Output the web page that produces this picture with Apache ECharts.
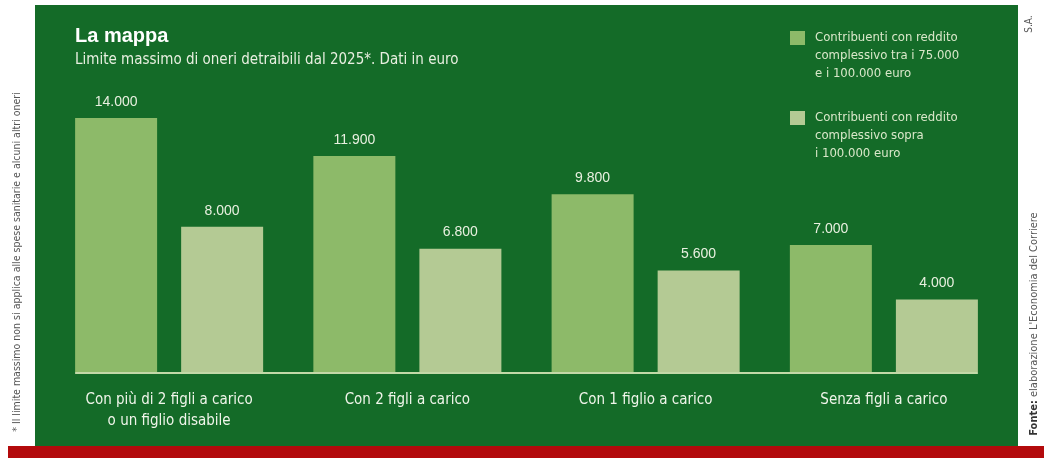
<!DOCTYPE html>
<html>
<head>
<meta charset="utf-8">
<script src="https://cdn.jsdelivr.net/npm/echarts@6/dist/echarts.min.js"></script>
<style>
  html, body { margin: 0; padding: 0; background: #ffffff; }
  #chart { width: 1044px; height: 458px; }
</style>
</head>
<body>
<div id="chart"></div>
<script>
// Categorie (fasce familiari)
const categories = [
  'Con più di 2 figli a carico\no un figlio disabile',
  'Con 2 figli a carico',
  'Con 1 figlio a carico',
  'Senza figli a carico'
];

// Limite massimo di oneri detraibili, in euro
const redditoTra75e100 = [14000, 11900, 9800, 7000];
const redditoSopra100 = [8000, 6800, 5600, 4000];

// Nomi delle serie (testo della legenda)
const seriesNames = [
  'Contribuenti con reddito\ncomplessivo tra i 75.000\ne i 100.000 euro',
  'Contribuenti con reddito\ncomplessivo sopra\ni 100.000 euro'
];

const titleText = 'La mappa';
const subtitleText = 'Limite massimo di oneri detraibili dal 2025*. Dati in euro';
const footnoteText = '* Il limite massimo non si applica alle spese sanitarie e alcuni altri oneri';
const authorText = 'S.A.';
const sourceLabel = 'Fonte:';
const sourceText = ' elaborazione L\'Economia del Corriere';

const GREEN_BG = '#146b28';
const BAR_DARK = '#8dba69';
const BAR_LIGHT = '#b4ca94';
const NARROW = "'Liberation Sans Narrow', 'DejaVu Sans Condensed', sans-serif";
const BAR_W = 82;
const BAR_GAP = 24;

function fmt(n) {
  return String(n).replace(/\B(?=(\d{3})+(?!\d))/g, '.');
}

const chart = echarts.init(document.getElementById('chart'), null, { renderer: 'canvas' });

const valueLabel = {
  show: true,
  position: 'top',
  distance: 9,
  color: '#e9f0e0',
  fontFamily: "'Liberation Sans', sans-serif",
  fontSize: 14,
  formatter: p => fmt(p.value)
};

chart.setOption({
  animation: false,
  backgroundColor: '#ffffff',
  title: {
    text: titleText,
    subtext: subtitleText,
    left: 70,
    top: 21,
    itemGap: 7,
    textStyle: { color: '#ffffff', fontSize: 20, fontWeight: 'bold', fontFamily: "'Liberation Sans', sans-serif" },
    subtextStyle: { color: '#e8efe0', fontSize: 15, fontFamily: NARROW }
  },
  grid: { left: 50, right: 41, top: 118, bottom: 86 },
  xAxis: {
    type: 'category',
    data: categories,
    axisLine: { show: false },
    axisTick: { show: false },
    axisLabel: {
      color: '#f0f5ea',
      fontSize: 15,
      lineHeight: 21,
      margin: 18,
      fontFamily: NARROW,
      interval: 0
    }
  },
  yAxis: {
    type: 'value',
    min: 0,
    max: 14000,
    show: false,
    splitLine: { show: false }
  },
  series: [
    {
      name: seriesNames[0],
      type: 'bar',
      data: redditoTra75e100,
      barWidth: BAR_W,
      barGap: (BAR_GAP / BAR_W * 100).toFixed(1) + '%',
      itemStyle: { color: BAR_DARK },
      label: valueLabel
    },
    {
      name: seriesNames[1],
      type: 'bar',
      data: redditoSopra100,
      barWidth: BAR_W,
      itemStyle: { color: BAR_LIGHT },
      label: valueLabel
    },
    {
      // linea di base sotto le barre, dalla prima all'ultima
      type: 'custom',
      silent: true,
      z: 5,
      data: [[0, 0]],
      renderItem: function (params, api) {
        const a = api.coord([0, 0]);
        const b = api.coord([categories.length - 1, 0]);
        const ext = BAR_W + BAR_GAP / 2;
        return {
          type: 'line',
          shape: { x1: a[0] - ext, y1: a[1] + 1, x2: b[0] + ext, y2: a[1] + 1 },
          style: { stroke: '#c3d9a8', lineWidth: 2 }
        };
      }
    }
  ],
  graphic: [
    // pannello verde
    { type: 'rect', z: -10, shape: { x: 35, y: 5, width: 983, height: 441 }, style: { fill: GREEN_BG } },
    // fascia rossa in basso
    { type: 'rect', z: -10, shape: { x: 8, y: 446, width: 1036, height: 12 }, style: { fill: '#b30a0c' } },
    // legenda
    { type: 'rect', shape: { x: 790, y: 31, width: 15, height: 14 }, style: { fill: BAR_DARK } },
    {
      type: 'text', x: 815, y: 29,
      style: { text: seriesNames[0], fill: '#d9e7c9', font: '13px ' + NARROW, lineHeight: 18, verticalAlign: 'top' }
    },
    { type: 'rect', shape: { x: 790, y: 111, width: 15, height: 14 }, style: { fill: BAR_LIGHT } },
    {
      type: 'text', x: 815, y: 109,
      style: { text: seriesNames[1], fill: '#d9e7c9', font: '13px ' + NARROW, lineHeight: 18, verticalAlign: 'top' }
    },
    // nota a margine sinistro
    {
      type: 'text', x: 17, y: 262, rotation: Math.PI / 2,
      style: { text: footnoteText, fill: '#555555', font: '10.5px ' + NARROW, align: 'center', verticalAlign: 'middle' }
    },
    // sigla autore
    {
      type: 'text', x: 1029, y: 24, rotation: Math.PI / 2,
      style: { text: authorText, fill: '#555555', font: '10px ' + NARROW, align: 'center', verticalAlign: 'middle' }
    },
    // fonte
    {
      type: 'text', x: 1034, y: 324, rotation: Math.PI / 2,
      style: {
        text: '{b|' + sourceLabel + '}{r|' + sourceText + '}',
        align: 'center', verticalAlign: 'middle',
        rich: {
          b: { fill: '#333333', font: 'bold 11px ' + NARROW },
          r: { fill: '#555555', font: '11px ' + NARROW }
        }
      }
    }
  ]
});
</script>
</body>
</html>
